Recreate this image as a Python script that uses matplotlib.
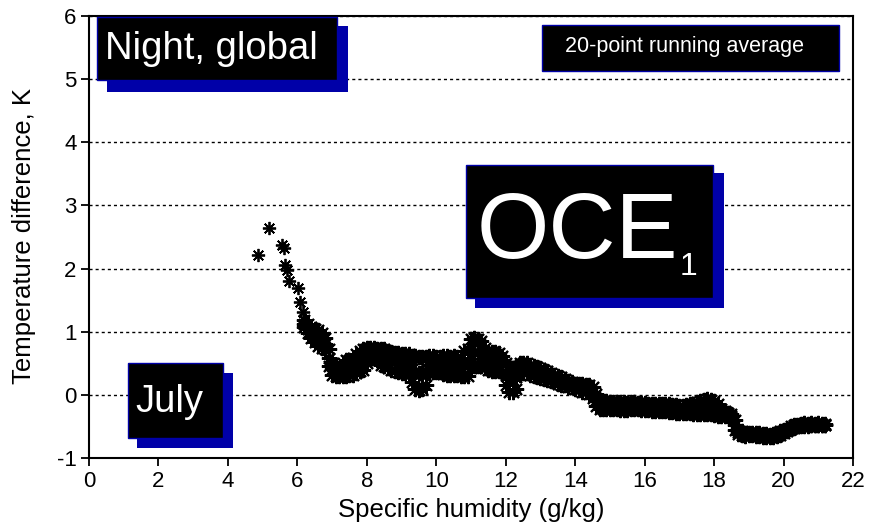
import matplotlib
matplotlib.use("Agg")
import matplotlib.pyplot as plt
from matplotlib.patches import Rectangle

plt.rcParams['font.family'] = ['Liberation Sans', 'DejaVu Sans']
plt.rcParams['axes.unicode_minus'] = False

# isolated points at low humidity
x_low = [4.88, 5.18, 5.55, 5.62, 5.65, 5.70, 5.77, 6.01, 6.07, 6.15]
y_low = [2.21, 2.65, 2.37, 2.33, 2.05, 1.98, 1.81, 1.69, 1.47, 1.32]

# dense part of the running average: upper edge, middle and lower edge of the band
x_band = [6.2, 6.3, 6.4, 6.5, 6.6, 6.7, 6.8, 6.9, 7.0, 7.1,
          7.2, 7.3, 7.4, 7.5, 7.6, 7.7, 7.8, 7.9, 8.0, 8.1,
          8.2, 8.3, 8.4, 8.5, 8.6, 8.7, 8.8, 8.9, 9.0, 9.1,
          9.2, 9.3, 9.4, 9.5, 9.6, 9.7, 9.8, 9.9, 10.0, 10.1,
          10.2, 10.3, 10.4, 10.5, 10.6, 10.7, 10.8, 10.9, 11.0, 11.1,
          11.2, 11.3, 11.4, 11.5, 11.6, 11.7, 11.8, 11.9, 12.0, 12.1,
          12.2, 12.3, 12.4, 12.5, 12.6, 12.7, 12.8, 12.9, 13.0, 13.1,
          13.2, 13.3, 13.4, 13.5, 13.6, 13.7, 13.8, 13.9, 14.0, 14.1,
          14.2, 14.3, 14.4, 14.5, 14.6, 14.7, 14.8, 14.9, 15.0, 15.1,
          15.2, 15.3, 15.4, 15.5, 15.6, 15.7, 15.8, 15.9, 16.0, 16.1,
          16.2, 16.3, 16.4, 16.5, 16.6, 16.7, 16.8, 16.9, 17.0, 17.1,
          17.2, 17.3, 17.4, 17.5, 17.6, 17.7, 17.8, 17.9, 18.0, 18.1,
          18.2, 18.3, 18.4, 18.5, 18.6, 18.7, 18.8, 18.9, 19.0, 19.1,
          19.2, 19.3, 19.4, 19.5, 19.6, 19.7, 19.8, 19.9, 20.0, 20.1,
          20.2, 20.3, 20.4, 20.5, 20.6, 20.7, 20.8, 20.9, 21.0, 21.1,
          21.2]
y_hi = [1.18, 1.12, 1.08, 1.05, 1.02, 0.98, 0.90, 0.72, 0.50, 0.45,
        0.42, 0.50, 0.55, 0.56, 0.58, 0.65, 0.70, 0.72, 0.74, 0.74,
        0.74, 0.72, 0.72, 0.72, 0.70, 0.68, 0.66, 0.66, 0.65, 0.64,
        0.64, 0.62, 0.62, 0.60, 0.60, 0.60, 0.62, 0.62, 0.60, 0.60,
        0.62, 0.62, 0.60, 0.62, 0.60, 0.58, 0.70, 0.72, 0.88, 0.90,
        0.88, 0.85, 0.75, 0.68, 0.68, 0.68, 0.66, 0.62, 0.50, 0.45,
        0.42, 0.45, 0.50, 0.50, 0.50, 0.48, 0.46, 0.44, 0.42, 0.40,
        0.38, 0.35, 0.32, 0.30, 0.28, 0.25, 0.22, 0.20, 0.18, 0.17,
        0.17, 0.16, 0.15, 0.12, 0.02, -0.08, -0.10, -0.10, -0.11, -0.11,
        -0.12, -0.12, -0.12, -0.13, -0.12, -0.12, -0.13, -0.13, -0.13, -0.14,
        -0.14, -0.14, -0.14, -0.15, -0.15, -0.15, -0.16, -0.16, -0.17, -0.17,
        -0.16, -0.15, -0.14, -0.12, -0.09, -0.08, -0.07, -0.08, -0.10, -0.15,
        -0.22, -0.25, -0.28, -0.30, -0.40, -0.55, -0.58, -0.60, -0.60, -0.60,
        -0.60, -0.61, -0.62, -0.62, -0.63, -0.62, -0.60, -0.58, -0.56, -0.54,
        -0.50, -0.48, -0.47, -0.46, -0.45, -0.46, -0.45, -0.46, -0.45, -0.46,
        -0.46]
y_mid = [1.13, 1.05, 0.99, 0.94, 0.90, 0.86, 0.81, 0.58, 0.41, 0.38,
         0.36, 0.40, 0.42, 0.44, 0.45, 0.50, 0.54, 0.56, 0.62, 0.66,
         0.66, 0.64, 0.60, 0.58, 0.56, 0.54, 0.52, 0.51, 0.50, 0.50,
         0.49, 0.41, 0.36, 0.34, 0.35, 0.38, 0.48, 0.50, 0.48, 0.48,
         0.48, 0.47, 0.46, 0.47, 0.46, 0.44, 0.50, 0.51, 0.65, 0.68,
         0.66, 0.65, 0.59, 0.54, 0.53, 0.53, 0.52, 0.49, 0.33, 0.25,
         0.24, 0.28, 0.41, 0.42, 0.42, 0.40, 0.38, 0.36, 0.35, 0.33,
         0.31, 0.29, 0.26, 0.24, 0.22, 0.20, 0.18, 0.16, 0.14, 0.12,
         0.11, 0.10, 0.09, 0.04, -0.08, -0.15, -0.16, -0.16, -0.17, -0.17,
         -0.18, -0.18, -0.18, -0.19, -0.18, -0.18, -0.18, -0.19, -0.19, -0.19,
         -0.20, -0.20, -0.20, -0.21, -0.21, -0.21, -0.22, -0.22, -0.23, -0.23,
         -0.23, -0.22, -0.22, -0.21, -0.20, -0.19, -0.19, -0.20, -0.21, -0.24,
         -0.28, -0.30, -0.31, -0.33, -0.48, -0.59, -0.61, -0.63, -0.62, -0.62,
         -0.63, -0.63, -0.64, -0.64, -0.65, -0.64, -0.63, -0.61, -0.58, -0.56,
         -0.52, -0.50, -0.49, -0.48, -0.47, -0.48, -0.47, -0.47, -0.47, -0.47,
         -0.47]
y_lo = [1.08, 0.98, 0.90, 0.84, 0.78, 0.74, 0.72, 0.45, 0.32, 0.30,
        0.30, 0.30, 0.30, 0.32, 0.32, 0.35, 0.38, 0.40, 0.50, 0.57,
        0.58, 0.55, 0.48, 0.45, 0.42, 0.40, 0.38, 0.36, 0.35, 0.35,
        0.34, 0.20, 0.10, 0.08, 0.10, 0.15, 0.35, 0.37, 0.36, 0.36,
        0.33, 0.32, 0.32, 0.32, 0.31, 0.30, 0.30, 0.30, 0.42, 0.45,
        0.45, 0.45, 0.43, 0.40, 0.38, 0.38, 0.38, 0.36, 0.15, 0.05,
        0.05, 0.10, 0.32, 0.34, 0.34, 0.32, 0.30, 0.28, 0.27, 0.25,
        0.24, 0.22, 0.20, 0.18, 0.16, 0.15, 0.13, 0.12, 0.10, 0.07,
        0.05, 0.04, 0.02, -0.05, -0.18, -0.22, -0.22, -0.22, -0.22, -0.23,
        -0.23, -0.24, -0.24, -0.24, -0.23, -0.23, -0.23, -0.24, -0.24, -0.24,
        -0.25, -0.25, -0.26, -0.26, -0.26, -0.27, -0.27, -0.28, -0.28, -0.29,
        -0.29, -0.29, -0.30, -0.30, -0.30, -0.30, -0.31, -0.31, -0.32, -0.33,
        -0.33, -0.34, -0.34, -0.35, -0.55, -0.62, -0.64, -0.65, -0.64, -0.64,
        -0.65, -0.65, -0.66, -0.66, -0.66, -0.66, -0.65, -0.63, -0.60, -0.57,
        -0.54, -0.52, -0.50, -0.49, -0.49, -0.49, -0.48, -0.48, -0.48, -0.48,
        -0.48]

x_ticks = [0, 2, 4, 6, 8, 10, 12, 14, 16, 18, 20, 22]
y_ticks = [-1, 0, 1, 2, 3, 4, 5, 6]

blue = '#0000a8'
star = (8, 2, 0)

fig = plt.figure(figsize=(8.7, 5.29), dpi=100)
ax = fig.add_axes([0.1023, 0.1342, 0.8782, 0.8355])

ax.plot(x_low, y_low, linestyle='none', marker=star, ms=9.5, mew=1.3,
        color='black', zorder=3)
for yy in (y_hi, y_mid, y_lo):
    ax.plot(x_band, yy, linestyle='none', marker=star, ms=11, mew=1.5,
            color='black', zorder=3)

ax.set_xlim(0, 22)
ax.set_ylim(-1, 6)
ax.set_xticks(x_ticks)
ax.set_yticks(y_ticks)
ax.tick_params(direction='out', length=6, width=1.3, labelsize=16, pad=3)
for s in ax.spines.values():
    s.set_linewidth(1.5)
ax.grid(axis='y', color='black', linestyle=(0, (2.2, 2.2)), linewidth=1.0, zorder=1)
ax.set_axisbelow(True)

ax.set_xlabel('Specific humidity (g/kg)', fontsize=18.5, labelpad=5)
ax.set_ylabel('Temperature difference, K', fontsize=18.5)
ax.yaxis.set_label_coords(-0.070, 0.502)


def label_box(x0, y0, x1, y1, shadow=None):
    if shadow is not None:
        sx0, sy0, sx1, sy1 = shadow
        ax.add_patch(Rectangle((sx0, sy0), sx1 - sx0, sy1 - sy0, transform=ax.transAxes,
                               facecolor=blue, edgecolor='none', zorder=4, clip_on=False))
    ax.add_patch(Rectangle((x0, y0), x1 - x0, y1 - y0, transform=ax.transAxes,
                           facecolor='black', edgecolor=blue, linewidth=1.0,
                           zorder=5, clip_on=False))


# Night, global
label_box(0.0105, 0.8552, 0.3246, 0.9977, shadow=(0.0236, 0.828, 0.339, 0.977))
ax.text(0.021, 0.9027, 'Night, global', transform=ax.transAxes, color='white',
        fontsize=27.5, ha='left', va='baseline', zorder=6)

# 20-point running average
label_box(0.5929, 0.8756, 0.9817, 0.9796)
ax.text(0.7794, 0.9186, '20-point running average', transform=ax.transAxes,
        color='white', fontsize=15.5, ha='center', va='baseline', zorder=6)

# OCE1
label_box(0.4935, 0.362, 0.8168, 0.6629, shadow=(0.5052, 0.3394, 0.8312, 0.6448))
ax.text(0.5079, 0.4525, 'OCE', transform=ax.transAxes, color='white',
        fontsize=67, ha='left', va='baseline', zorder=6)
ax.text(0.7735, 0.414, '1', transform=ax.transAxes, color='white',
        fontsize=23, ha='left', va='baseline', zorder=6)

# July
label_box(0.051, 0.0452, 0.1754, 0.2149, shadow=(0.0628, 0.0226, 0.1885, 0.1923))
ax.text(0.1047, 0.104, 'July', transform=ax.transAxes, color='white',
        fontsize=27.5, ha='center', va='baseline', zorder=6)

fig.savefig('out.png', dpi=100)
